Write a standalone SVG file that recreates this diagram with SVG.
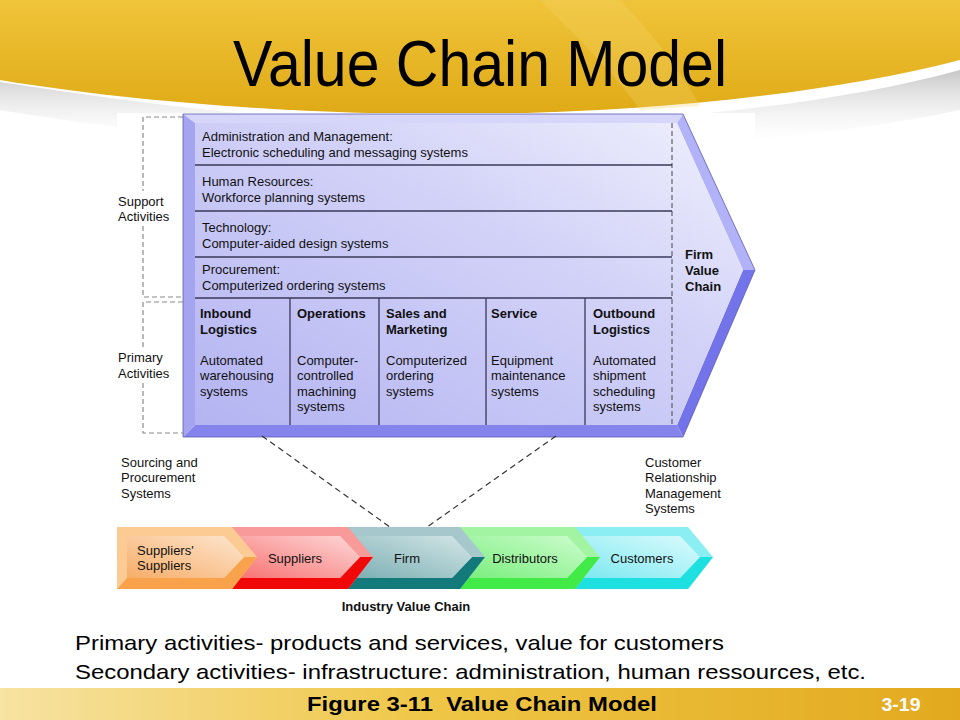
<svg xmlns="http://www.w3.org/2000/svg" width="960" height="720" viewBox="0 0 960 720">
<defs>
  <linearGradient id="gold" x1="0" y1="0" x2="0" y2="1">
    <stop offset="0" stop-color="#f0c43a"/>
    <stop offset="1" stop-color="#dfaa16"/>
  </linearGradient>
  <linearGradient id="shade" x1="0" y1="0" x2="0" y2="1">
    <stop offset="0" stop-color="#b8b8b8" stop-opacity="0.8"/>
    <stop offset="1" stop-color="#ffffff" stop-opacity="0"/>
  </linearGradient>
  <linearGradient id="foot" x1="0" y1="0" x2="1" y2="0">
    <stop offset="0" stop-color="#f7e3a2"/>
    <stop offset="0.45" stop-color="#efc646"/>
    <stop offset="1" stop-color="#e2a91e"/>
  </linearGradient>
  <linearGradient id="face" x1="0" y1="1" x2="1" y2="0">
    <stop offset="0" stop-color="#b4b4f2"/>
    <stop offset="0.6" stop-color="#d2d2f8"/>
    <stop offset="1" stop-color="#f0f0fd"/>
  </linearGradient>
  <linearGradient id="gOr" x1="0" y1="1" x2="1" y2="0"><stop offset="0" stop-color="#f7ad68"/><stop offset="1" stop-color="#fde6d0"/></linearGradient>
  <linearGradient id="gRd" x1="0" y1="1" x2="1" y2="0"><stop offset="0" stop-color="#f87070"/><stop offset="1" stop-color="#fdd8d8"/></linearGradient>
  <linearGradient id="gTl" x1="0" y1="1" x2="1" y2="0"><stop offset="0" stop-color="#7aaeb2"/><stop offset="1" stop-color="#d4e6e8"/></linearGradient>
  <linearGradient id="gGr" x1="0" y1="1" x2="1" y2="0"><stop offset="0" stop-color="#78ee7c"/><stop offset="1" stop-color="#cdfccd"/></linearGradient>
  <linearGradient id="gCy" x1="0" y1="1" x2="1" y2="0"><stop offset="0" stop-color="#7ae8f0"/><stop offset="1" stop-color="#dcfbfd"/></linearGradient>
</defs>
<style>
  .t{font-family:"Liberation Sans",Arial,sans-serif;font-size:13px;fill:#111}
  .b{font-weight:bold}
  .n{font-family:"Liberation Sans",Arial,sans-serif}
  .sep{stroke:#3a3a5a;stroke-width:1.3;fill:none}
  .br{stroke:#8a8a8a;stroke-width:1.2;stroke-dasharray:5 3;fill:none}
  .con{stroke:#333;stroke-width:1.2;stroke-dasharray:6 4;fill:none}
  .edge{stroke:#5a5ab0;stroke-width:0.8}
</style>

<!-- slide background -->
<rect width="960" height="720" fill="#ffffff"/>
<path d="M0,82 C120,100 300,127 480,125 C640,123 820,108 960,70 L960,110 C820,140 640,150 480,150 C300,150 120,130 0,110 Z" fill="url(#shade)"/>
<path d="M0,0 H960 V60 C820,96 640,112 480,114 C300,116 120,100 0,80 Z" fill="url(#gold)"/>
<path d="M540,0 C580,40 620,80 640,110 L700,106 C680,70 650,30 620,0 Z" fill="#f6d56a" opacity="0.3"/>
<text class="n" x="480" y="86" text-anchor="middle" font-size="64" textLength="494" lengthAdjust="spacingAndGlyphs" fill="#000">Value Chain Model</text>

<!-- figure image background -->
<rect x="117" y="113" width="638" height="508" fill="#ffffff"/>

<!-- firm value chain -->
<g id="firm-value-chain">
  <polygon points="183,114 683,114 677,123 195,123" fill="#d6d6fa"/>
  <polygon points="683,114 755,270 743,270 677,123" fill="#b2b2f8"/>
  <polygon points="755,270 683,437 677,425 743,270" fill="#7474ea"/>
  <polygon points="683,437 183,437 195,425 677,425" fill="#8484ec"/>
  <polygon points="183,437 183,114 195,123 195,425" fill="#a4a4f0"/>
  <polygon points="195,123 677,123 743,270 677,425 195,425" fill="url(#face)"/>
  <polygon points="183,114 683,114 755,270 683,437 183,437" fill="none" class="edge"/>
  <line x1="672" y1="123" x2="672" y2="425" stroke="#555" stroke-width="1.1" stroke-dasharray="5 3"/>
  <path class="sep" d="M195,165H672M195,211H672M195,257H672M195,298H672M290,298V425M379,298V425M486,298V425M585,298V425"/>
  <text class="t b" x="685" y="259">Firm</text>
  <text class="t b" x="685" y="275">Value</text>
  <text class="t b" x="685" y="291">Chain</text>
</g>
<g id="admin">
  <text class="t" x="202" y="141">Administration and Management:</text>
  <text class="t" x="202" y="157">Electronic scheduling and messaging systems</text>
</g>
<g id="hr">
  <text class="t" x="202" y="186">Human Resources:</text>
  <text class="t" x="202" y="202">Workforce planning systems</text>
</g>
<g id="technology">
  <text class="t" x="202" y="232">Technology:</text>
  <text class="t" x="202" y="248">Computer-aided design systems</text>
</g>
<g id="procurement">
  <text class="t" x="202" y="274">Procurement:</text>
  <text class="t" x="202" y="290">Computerized ordering systems</text>
</g>
<g id="inbound">
  <text class="t b" x="200" y="318">Inbound</text>
  <text class="t b" x="200" y="334">Logistics</text>
  <text class="t" x="200" y="365">Automated</text>
  <text class="t" x="200" y="380">warehousing</text>
  <text class="t" x="200" y="396">systems</text>
</g>
<g id="operations">
  <text class="t b" x="297" y="318">Operations</text>
  <text class="t" x="297" y="365">Computer-</text>
  <text class="t" x="297" y="380">controlled</text>
  <text class="t" x="297" y="396">machining</text>
  <text class="t" x="297" y="411">systems</text>
</g>
<g id="sales">
  <text class="t b" x="386" y="318">Sales and</text>
  <text class="t b" x="386" y="334">Marketing</text>
  <text class="t" x="386" y="365">Computerized</text>
  <text class="t" x="386" y="380">ordering</text>
  <text class="t" x="386" y="396">systems</text>
</g>
<g id="service">
  <text class="t b" x="491" y="318">Service</text>
  <text class="t" x="491" y="365">Equipment</text>
  <text class="t" x="491" y="380">maintenance</text>
  <text class="t" x="491" y="396">systems</text>
</g>
<g id="outbound">
  <text class="t b" x="593" y="318">Outbound</text>
  <text class="t b" x="593" y="334">Logistics</text>
  <text class="t" x="593" y="365">Automated</text>
  <text class="t" x="593" y="380">shipment</text>
  <text class="t" x="593" y="396">scheduling</text>
  <text class="t" x="593" y="411">systems</text>
</g>

<!-- brackets -->
<g id="support-activities">
  <path class="br" d="M183,117H143V191M143,226V297H183"/>
  <text class="t" x="118" y="206" fill="#222">Support</text>
  <text class="t" x="118" y="221" fill="#222">Activities</text>
</g>
<g id="primary-activities">
  <path class="br" d="M183,302H143V348M143,383V433H183"/>
  <text class="t" x="118" y="362" fill="#222">Primary</text>
  <text class="t" x="118" y="378" fill="#222">Activities</text>
</g>

<!-- connectors -->
<g id="connectors">
  <line class="con" x1="262" y1="436" x2="390" y2="527"/>
  <line class="con" x1="556" y1="436" x2="427" y2="527"/>
</g>

<g id="sourcing">
  <text class="t" x="121" y="467">Sourcing and</text>
  <text class="t" x="121" y="482">Procurement</text>
  <text class="t" x="121" y="498">Systems</text>
</g>
<g id="crm">
  <text class="t" x="645" y="467">Customer</text>
  <text class="t" x="645" y="482">Relationship</text>
  <text class="t" x="645" y="498">Management</text>
  <text class="t" x="645" y="513">Systems</text>
</g>

<!-- industry value chain (drawn right to left) -->
<g id="customers">
  <polygon points="575,527 688,527 713,557 688,589 575,589" fill="#8aeef2"/>
  <polygon points="575,589 688,589 713,557 700,557 680,578 575,578" fill="#1ee0e0"/>
  <polygon points="575,536 680,536 700,557 680,578 575,578" fill="url(#gCy)"/>
  <text class="t" x="642" y="563" text-anchor="middle" fill="#0e2a30">Customers</text>
</g>
<g id="distributors">
  <polygon points="460,527 575,527 600,557 575,589 460,589" fill="#a2f4a2"/>
  <polygon points="460,589 575,589 600,557 587,557 567,578 460,578" fill="#42ea48"/>
  <polygon points="460,536 567,536 587,557 567,578 460,578" fill="url(#gGr)"/>
  <text class="t" x="525" y="563" text-anchor="middle" fill="#0e2e10">Distributors</text>
</g>
<g id="firm">
  <polygon points="348,527 460,527 485,557 460,589 348,589" fill="#a6c8cc"/>
  <polygon points="348,589 460,589 485,557 472,557 452,578 348,578" fill="#127a7a"/>
  <polygon points="348,536 452,536 472,557 452,578 348,578" fill="url(#gTl)"/>
  <text class="t" x="407" y="563" text-anchor="middle" fill="#10282a">Firm</text>
</g>
<g id="suppliers">
  <polygon points="232,527 348,527 373,557 348,589 232,589" fill="#f89a9a"/>
  <polygon points="232,589 348,589 373,557 360,557 340,578 232,578" fill="#f00808"/>
  <polygon points="232,536 340,536 360,557 340,578 232,578" fill="url(#gRd)"/>
  <text class="t" x="295" y="563" text-anchor="middle" fill="#3a0a0a">Suppliers</text>
</g>
<g id="suppliers-suppliers">
  <polygon points="117,527 232,527 257,557 232,589 117,589" fill="#fccb94"/>
  <polygon points="117,589 232,589 257,557 244,557 224,578 127,578 117,589" fill="#f8a34c"/>
  <polygon points="127,536 224,536 244,557 224,578 127,578" fill="url(#gOr)"/>
  <text class="t" x="137" y="555" fill="#2a1608">Suppliers'</text>
  <text class="t" x="137" y="570" fill="#2a1608">Suppliers</text>
</g>
<text class="t b" x="406" y="611" text-anchor="middle">Industry Value Chain</text>

<!-- notes -->
<text class="n" x="75" y="650" font-size="21" textLength="649" lengthAdjust="spacingAndGlyphs" fill="#000">Primary activities- products and services, value for customers</text>
<text class="n" x="75" y="679" font-size="21" textLength="791" lengthAdjust="spacingAndGlyphs" fill="#000">Secondary activities- infrastructure: administration, human ressources, etc.</text>

<!-- footer -->
<rect x="0" y="688" width="960" height="32" fill="url(#foot)"/>
<text class="n" x="482" y="711" text-anchor="middle" font-size="21" font-weight="bold" textLength="350" lengthAdjust="spacingAndGlyphs" fill="#000">Figure 3-11&#160; Value Chain Model</text>
<text class="n" x="901" y="711" text-anchor="middle" font-size="18" font-weight="bold" textLength="39" lengthAdjust="spacingAndGlyphs" fill="#fff">3-19</text>
</svg>
